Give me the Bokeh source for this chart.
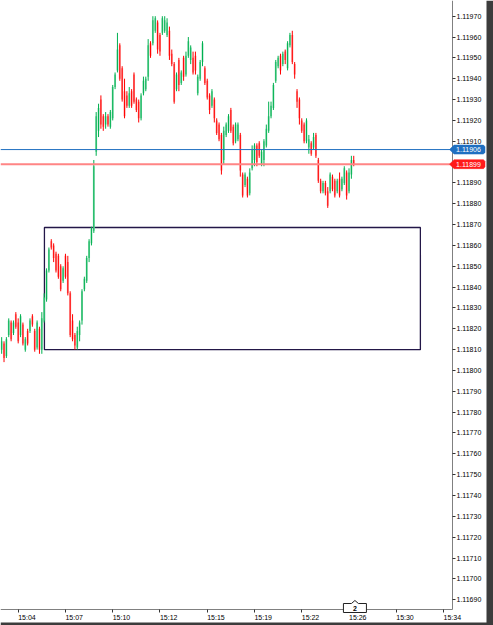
from bokeh.plotting import figure
from bokeh.models import (ColumnDataSource, FixedTicker, LinearAxis, Range1d,
                          PrintfTickFormatter)
from bokeh.core.properties import value
from bokeh.embed import file_html
from bokeh.resources import INLINE

# ---------------- data ----------------
opens = [1.11810, 1.11813, 1.11807, 1.11817, 1.11823, 1.11818, 1.11827, 1.11823, 1.11817, 1.11822,
         1.11810, 1.11819, 1.11819, 1.11826, 1.11819, 1.11811, 1.11820, 1.11810, 1.11824, 1.11834,
         1.11848, 1.11862, 1.11860, 1.11856, 1.11855, 1.11850, 1.11843, 1.11855, 1.11852, 1.11837,
         1.11824, 1.11817, 1.11811, 1.11817, 1.11824, 1.11839, 1.11843, 1.11854, 1.11861, 1.11867,
         1.11905, 1.11915, 1.11930, 1.11922, 1.11918, 1.11922, 1.11917, 1.11921, 1.11936, 1.11944,
         1.11956, 1.11945, 1.11934, 1.11932, 1.11927, 1.11934, 1.11942, 1.11930, 1.11929, 1.11921,
         1.11933, 1.11935, 1.11941, 1.11957, 1.11957, 1.11963, 1.11967, 1.11961, 1.11962, 1.11963,
         1.11961, 1.11963, 1.11952, 1.11947, 1.11935, 1.11949, 1.11938, 1.11950, 1.11942, 1.11951,
         1.11949, 1.11950, 1.11951, 1.11933, 1.11940, 1.11948, 1.11945, 1.11939, 1.11932, 1.11927,
         1.11930, 1.11920, 1.11918, 1.11913, 1.11901, 1.11913, 1.11915, 1.11925, 1.11917, 1.11910,
         1.11911, 1.11913, 1.11894, 1.11889, 1.11892, 1.11885, 1.11897, 1.11901, 1.11908, 1.11909,
         1.11899, 1.11901, 1.11908, 1.11915, 1.11922, 1.11926, 1.11939, 1.11946, 1.11951, 1.11947,
         1.11953, 1.11945, 1.11956, 1.11961, 1.11947, 1.11934, 1.11930, 1.11920, 1.11918, 1.11910,
         1.11907, 1.11909, 1.11907, 1.11913, 1.11901, 1.11891, 1.11886, 1.11890, 1.11886, 1.11886,
         1.11893, 1.11891, 1.11886, 1.11892, 1.11887, 1.11890, 1.11895, 1.11886, 1.11894, 1.11901]

closes = [1.11814, 1.11806, 1.11815, 1.11824, 1.11815, 1.11823, 1.11821, 1.11814, 1.11826, 1.11813,
          1.11815, 1.11813, 1.11824, 1.11822, 1.11810, 1.11823, 1.11810, 1.11825, 1.11835, 1.11848,
          1.11858, 1.11859, 1.11854, 1.11848, 1.11845, 1.11839, 1.11849, 1.11845, 1.11837, 1.11817,
          1.11815, 1.11812, 1.11819, 1.11823, 1.11838, 1.11844, 1.11854, 1.11862, 1.11868, 1.11898,
          1.11922, 1.11926, 1.11918, 1.11917, 1.11922, 1.11918, 1.11924, 1.11936, 1.11942, 1.11954,
          1.11940, 1.11930, 1.11922, 1.11927, 1.11933, 1.11927, 1.11929, 1.11925, 1.11921, 1.11932,
          1.11939, 1.11940, 1.11956, 1.11951, 1.11968, 1.11969, 1.11954, 1.11953, 1.11969, 1.11968,
          1.11967, 1.11951, 1.11947, 1.11929, 1.11942, 1.11937, 1.11943, 1.11941, 1.11951, 1.11958,
          1.11955, 1.11943, 1.11944, 1.11941, 1.11948, 1.11957, 1.11938, 1.11931, 1.11925, 1.11934,
          1.11921, 1.11914, 1.11911, 1.11896, 1.11915, 1.11918, 1.11922, 1.11915, 1.11909, 1.11918,
          1.11918, 1.11896, 1.11884, 1.11894, 1.11884, 1.11895, 1.11906, 1.11908, 1.11900, 1.11903,
          1.11905, 1.11910, 1.11916, 1.11922, 1.11927, 1.11937, 1.11948, 1.11950, 1.11944, 1.11952,
          1.11949, 1.11957, 1.11961, 1.11948, 1.11942, 1.11929, 1.11921, 1.11915, 1.11910, 1.11920,
          1.11911, 1.11904, 1.11912, 1.11903, 1.11891, 1.11886, 1.11890, 1.11885, 1.11879, 1.11894,
          1.11887, 1.11884, 1.11891, 1.11884, 1.11892, 1.11897, 1.11884, 1.11895, 1.11901, 1.11899]

highs = [1.11816, 1.11814, 1.11816, 1.11825, 1.11824, 1.11824, 1.11828, 1.11825, 1.11827, 1.11823,
         1.11816, 1.11820, 1.11825, 1.11827, 1.11820, 1.11824, 1.11821, 1.11828, 1.11837, 1.11849,
         1.11859, 1.11863, 1.11861, 1.11857, 1.11856, 1.11851, 1.11850, 1.11856, 1.11855, 1.11838,
         1.11827, 1.11818, 1.11821, 1.11824, 1.11839, 1.11845, 1.11855, 1.11863, 1.11869, 1.11901,
         1.11924, 1.11928, 1.11932, 1.11923, 1.11924, 1.11923, 1.11925, 1.11937, 1.11943, 1.11962,
         1.11957, 1.11946, 1.11940, 1.11934, 1.11936, 1.11935, 1.11943, 1.11931, 1.11930, 1.11933,
         1.11941, 1.11941, 1.11959, 1.11958, 1.11970, 1.11970, 1.11968, 1.11962, 1.11970, 1.11970,
         1.11969, 1.11965, 1.11954, 1.11948, 1.11943, 1.11950, 1.11944, 1.11951, 1.11953, 1.11960,
         1.11956, 1.11953, 1.11953, 1.11942, 1.11949, 1.11958, 1.11946, 1.11940, 1.11933, 1.11935,
         1.11931, 1.11921, 1.11919, 1.11914, 1.11917, 1.11919, 1.11923, 1.11926, 1.11918, 1.11919,
         1.11919, 1.11914, 1.11895, 1.11895, 1.11893, 1.11897, 1.11908, 1.11909, 1.11909, 1.11910,
         1.11906, 1.11911, 1.11918, 1.11929, 1.11929, 1.11938, 1.11949, 1.11951, 1.11952, 1.11953,
         1.11954, 1.11958, 1.11962, 1.11963, 1.11948, 1.11935, 1.11931, 1.11921, 1.11919, 1.11921,
         1.11913, 1.11910, 1.11914, 1.11914, 1.11902, 1.11892, 1.11891, 1.11891, 1.11888, 1.11895,
         1.11894, 1.11892, 1.11892, 1.11895, 1.11893, 1.11898, 1.11896, 1.11897, 1.11903, 1.11903]

lows = [1.11808, 1.11804, 1.11806, 1.11816, 1.11814, 1.11817, 1.11820, 1.11813, 1.11816, 1.11812,
        1.11809, 1.11812, 1.11818, 1.11821, 1.11809, 1.11810, 1.11808, 1.11808, 1.11823, 1.11833,
        1.11847, 1.11858, 1.11852, 1.11847, 1.11844, 1.11838, 1.11842, 1.11844, 1.11836, 1.11816,
        1.11814, 1.11810, 1.11810, 1.11814, 1.11822, 1.11838, 1.11842, 1.11852, 1.11860, 1.11866,
        1.11903, 1.11912, 1.11916, 1.11915, 1.11916, 1.11917, 1.11916, 1.11920, 1.11935, 1.11943,
        1.11939, 1.11929, 1.11921, 1.11926, 1.11926, 1.11926, 1.11928, 1.11924, 1.11919, 1.11920,
        1.11932, 1.11934, 1.11939, 1.11950, 1.11956, 1.11962, 1.11952, 1.11951, 1.11961, 1.11962,
        1.11960, 1.11949, 1.11946, 1.11928, 1.11934, 1.11934, 1.11937, 1.11939, 1.11941, 1.11950,
        1.11947, 1.11942, 1.11942, 1.11932, 1.11939, 1.11946, 1.11937, 1.11930, 1.11923, 1.11926,
        1.11919, 1.11913, 1.11910, 1.11894, 1.11899, 1.11912, 1.11914, 1.11914, 1.11908, 1.11909,
        1.11910, 1.11893, 1.11883, 1.11888, 1.11883, 1.11884, 1.11896, 1.11898, 1.11898, 1.11902,
        1.11898, 1.11898, 1.11907, 1.11914, 1.11921, 1.11925, 1.11938, 1.11945, 1.11942, 1.11946,
        1.11947, 1.11944, 1.11955, 1.11947, 1.11940, 1.11926, 1.11918, 1.11914, 1.11909, 1.11909,
        1.11904, 1.11903, 1.11906, 1.11902, 1.11890, 1.11885, 1.11885, 1.11884, 1.11878, 1.11885,
        1.11886, 1.11883, 1.11885, 1.11883, 1.11886, 1.11889, 1.11882, 1.11885, 1.11892, 1.11898]

time_labels = ["15:04", "15:07", "15:10", "15:12", "15:15", "15:19", "15:22", "15:26", "15:30", "15:34"]
time_label_bars = [8, 28, 48, 68, 88, 108, 128, 148, 168, 188]

price_ticks = [1.11690, 1.11700, 1.11710, 1.11720, 1.11730, 1.11740, 1.11750, 1.11760, 1.11770,
               1.11780, 1.11790, 1.11800, 1.11810, 1.11820, 1.11830, 1.11840, 1.11850, 1.11860,
               1.11870, 1.11880, 1.11890, 1.11900, 1.11910, 1.11920, 1.11930, 1.11940, 1.11950,
               1.11960, 1.11970]

ask_price = 1.11906
bid_price = 1.11899

zone_first_bar = 19.1
zone_last_bar = 178.2
zone_top = 1.118686
zone_bottom = 1.118100

marker_bar = 150.5
marker_text = "2"

# ---------------- geometry / styling ----------------
FONT = "Liberation Sans"
UP_DARK, UP_LIGHT = "#00b050", "#86dcae"
DN_DARK, DN_LIGHT = "#ff0000", "#ff8e8e"
AXIS_GREY = "#808080"
EDGE_DARK = "#3c3c3c"
ASK_BLUE = "#1f6fc1"
BID_RED = "#ff1a1a"

W, H = 493, 625
BAR_PX = 2.363                # pixels per bar
PX_PER_PRICE = 2.084e5        # pixels per 1.0 of price
x_start = 0.51
x_end = x_start + W / BAR_PX
y_top = 1.1197753
y_bottom = y_top - H / PX_PER_PRICE
axis_x = x_start + 452 / BAR_PX          # price scale sits at 452 px
axis_y = y_top - 609 / PX_PER_PRICE      # time scale sits at 609 px


def dx(px):
    return px / BAR_PX


def dy(px):
    return px / PX_PER_PRICE


bars = list(range(1, len(closes) + 1))
is_up = [c >= o for o, c in zip(opens, closes)]
src = ColumnDataSource(dict(
    x=bars, high=highs, low=lows,
    top=[max(o, c) for o, c in zip(opens, closes)],
    bottom=[min(o, c) for o, c in zip(opens, closes)],
    body=[UP_LIGHT if u else DN_LIGHT for u in is_up],
    wick=[UP_DARK if u else DN_DARK for u in is_up],
))

p = figure(width=W, height=H, output_backend="svg", toolbar_location=None,
           x_range=Range1d(x_start, x_end), y_range=Range1d(y_bottom, y_top),
           x_axis_type=None, y_axis_type=None,
           min_border_left=0, min_border_top=0, min_border_right=0, min_border_bottom=0,
           border_fill_color="white", background_fill_color="white", outline_line_color=None)

# window edge (dark band on the right and at the bottom)
edge_x = x_start + dx(486)
edge_y = y_top - dy(622)
p.quad(left=[edge_x, x_start], right=[x_end, x_end], top=[y_top, edge_y], bottom=[y_bottom, y_bottom],
       fill_color=EDGE_DARK, line_color=None)

# zone rectangle
p.quad(left=[zone_first_bar], right=[zone_last_bar], top=[zone_top], bottom=[zone_bottom],
       fill_color=None, line_color="#231748", line_width=1.3)

# candles
p.vbar(x="x", width=0.8, top="top", bottom="bottom", fill_color="body", line_color=None, source=src)
p.segment(x0="x", y0="high", x1="x", y1="low", line_color="wick", line_width=1, source=src)

# price lines (end at the price scale)
p.segment(x0=[x_start], y0=[ask_price], x1=[axis_x], y1=[ask_price], line_color=ASK_BLUE, line_width=1)
p.segment(x0=[x_start], y0=[bid_price], x1=[axis_x], y1=[bid_price], line_color="#ff8585", line_width=2)

# right price axis, pinned inside the canvas
ya = LinearAxis(ticker=FixedTicker(ticks=price_ticks), formatter=PrintfTickFormatter(format="%.5f"),
                fixed_location=axis_x, bounds=(axis_y, y_top),
                major_tick_out=3, major_tick_in=0, minor_tick_out=0, minor_tick_in=0,
                major_label_standoff=1, major_label_text_font=FONT, major_label_text_font_size="7px",
                major_label_text_color="#000000", axis_line_color=AXIS_GREY,
                major_tick_line_color="#333333")
p.add_layout(ya, "right")

# bottom time axis: tick marks at the bars, labels to the right of them
label_pos = [b + 3.7 for b in time_label_bars]
xa = LinearAxis(ticker=FixedTicker(ticks=label_pos, minor_ticks=time_label_bars),
                fixed_location=axis_y, bounds=(x_start, axis_x),
                major_label_overrides={pos: lab for pos, lab in zip(label_pos, time_labels)},
                major_tick_out=0, major_tick_in=0, minor_tick_out=3, minor_tick_in=0,
                major_label_standoff=1, major_label_text_font=FONT, major_label_text_font_size="7px",
                major_label_text_color="#000000", axis_line_color=AXIS_GREY,
                minor_tick_line_color="#333333")
p.add_layout(xa, "below")

# price tags on the scale (arrow-shaped)
tag_xs, tag_ys, tag_cols = [], [], []
for price, bg in ((ask_price, ASK_BLUE), (bid_price, BID_RED)):
    h = dy(4.5)
    x0 = axis_x - dx(3)
    x1 = axis_x + dx(1.5)
    x2 = axis_x + dx(31)
    x3 = axis_x + dx(32.5)
    tag_xs.append([x0, x1, x2, x3, x3, x2, x1])
    tag_ys.append([price, price + h, price + h, price + h * 0.6, price - h * 0.6, price - h, price - h])
    tag_cols.append(bg)
r = p.patches(xs=tag_xs, ys=tag_ys, fill_color=tag_cols, line_color=tag_cols, line_width=0.5)
r.level = "overlay"
r = p.text(x=[axis_x + dx(16)] * 2, y=[ask_price, bid_price],
           text=[f"{ask_price:.5f}", f"{bid_price:.5f}"], text_color="white",
           text_font=value(FONT), text_font_size="7px", text_align="center", text_baseline="middle")
r.level = "overlay"

# small counter marker on the time axis
mb_y0 = axis_y - dy(3)
mb_y1 = axis_y + dy(6)
mx0, mx1 = marker_bar - dx(11.5), marker_bar + dx(11.5)
r = p.patch(x=[mx0, mx0, marker_bar - dx(3.5), marker_bar, marker_bar + dx(3.5), mx1, mx1],
            y=[mb_y0, mb_y1, mb_y1, mb_y1 + dy(3), mb_y1, mb_y1, mb_y0],
            fill_color="white", line_color="#222222", line_width=1)
r.level = "overlay"
r = p.text(x=[marker_bar], y=[(mb_y0 + mb_y1) / 2], text=[marker_text], text_color="#000000",
           text_font=value(FONT), text_font_size="7px", text_font_style="bold",
           text_align="center", text_baseline="middle")
r.level = "overlay"

open("out.html", "w").write(file_html(p, INLINE))
